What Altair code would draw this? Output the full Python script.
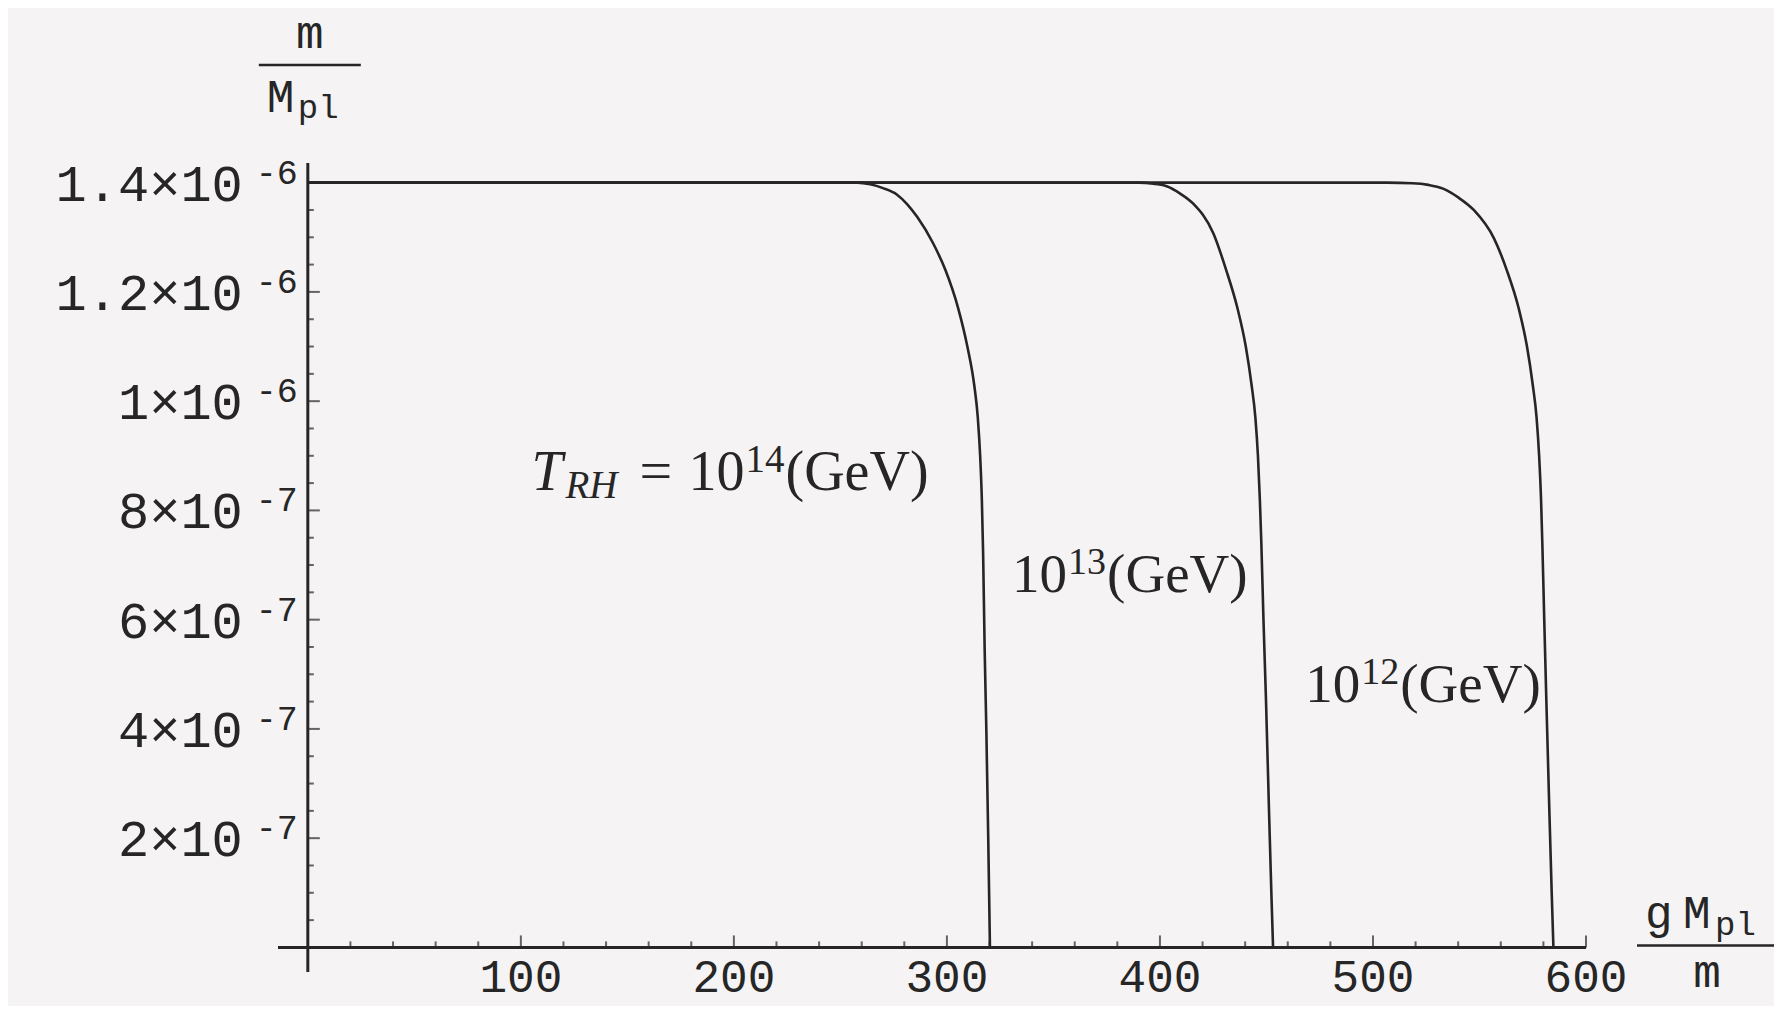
import altair as alt
import pandas as pd

# ---------------- data ----------------
# x = g*Mpl/m , y = m/Mpl
curve14_x = [0, 150, 250, 258, 264, 270, 276.6, 281.5, 286.1, 293.4, 299.3, 305.3, 309.6, 312.8, 314.5, 315.6, 316.4, 317.0, 317.7, 318.5, 319.4, 320.2]
curve14_y = [1.400e-6, 1.400e-6, 1.400e-6, 1.400e-6, 1.397e-6, 1.390e-6, 1.378e-6, 1.360e-6, 1.337e-6, 1.290e-6, 1.240e-6, 1.170e-6, 1.100e-6, 1.030e-6, 0.970e-6, 0.900e-6, 0.820e-6, 0.720e-6, 0.550e-6, 0.400e-6, 0.200e-6, 0.0]

curve13_x = [0, 200, 385, 390, 397, 403.5, 409.5, 415.5, 425.1, 431.1, 436.4, 440.3, 443.0, 444.8, 446.0, 446.9, 447.6, 448.6, 449.8, 451.2, 452.3, 453.1]
curve13_y = [1.400e-6, 1.400e-6, 1.400e-6, 1.400e-6, 1.398e-6, 1.393e-6, 1.380e-6, 1.362e-6, 1.307e-6, 1.240e-6, 1.170e-6, 1.100e-6, 1.030e-6, 0.970e-6, 0.900e-6, 0.820e-6, 0.740e-6, 0.600e-6, 0.450e-6, 0.250e-6, 0.100e-6, 0.0]

curve12_x = [0, 250, 500, 506.5, 518.5, 526, 532.9, 540, 547.3, 556.8, 562.8, 568.4, 572.3, 575.0, 576.8, 578.0, 578.9, 579.5, 580.4, 581.4, 582.8, 583.9, 584.7]
curve12_y = [1.400e-6, 1.400e-6, 1.400e-6, 1.400e-6, 1.399e-6, 1.396e-6, 1.389e-6, 1.373e-6, 1.350e-6, 1.298e-6, 1.240e-6, 1.170e-6, 1.100e-6, 1.030e-6, 0.970e-6, 0.900e-6, 0.820e-6, 0.740e-6, 0.600e-6, 0.450e-6, 0.250e-6, 0.100e-6, 0.0]

x_tick_values = [100, 200, 300, 400, 500, 600]
x_tick_labels = ["100", "200", "300", "400", "500", "600"]
x_minor_values = [v for v in range(20, 600, 20) if v % 100 != 0]

y_tick_values = [2e-7, 4e-7, 6e-7, 8e-7, 1e-6, 1.2e-6, 1.4e-6]
y_tick_mantissa = ["2×10", "4×10", "6×10", "8×10", "1×10", "1.2×10", "1.4×10"]
y_tick_exponent = ["-7", "-7", "-7", "-7", "-6", "-6", "-6"]
y_minor_values = [k * 5e-8 for k in range(1, 29) if k % 4 != 0]

label_x = [105.0, 330.6, 468.2]
label_y = [0.837e-6, 0.651e-6, 0.449e-6]
label_exp = ["14", "13", "12"]

X_MIN, X_MAX = -14, 600
Y_MIN, Y_MAX = -0.045e-6, 1.436e-6

INK = "#262626"
MONO = "Liberation Mono"
SERIF = "Liberation Serif"

XS = alt.Scale(domain=[X_MIN, X_MAX], nice=False, zero=False)
YS = alt.Scale(domain=[Y_MIN, Y_MAX], nice=False, zero=False)


def X(f):
    return alt.X(f, type="quantitative", scale=XS, axis=None)


def Y(f):
    return alt.Y(f, type="quantitative", scale=YS, axis=None)


# ---------------- curves ----------------
rows = []
for name, xs, ys in [("1e14", curve14_x, curve14_y), ("1e13", curve13_x, curve13_y), ("1e12", curve12_x, curve12_y)]:
    for i, (a, b) in enumerate(zip(xs, ys)):
        rows.append({"series": name, "x": a, "y": b, "i": i})
curves_df = pd.DataFrame(rows)

curves = alt.Chart(curves_df).mark_line(color=INK, strokeWidth=2.6, interpolate="monotone").encode(
    x=X("x"), y=Y("y"), detail="series:N", order="i:Q"
)

# ---------------- axes ----------------
xaxis = alt.Chart(pd.DataFrame({"x0": [X_MIN], "x1": [X_MAX], "y": [0.0]})).mark_rule(
    color=INK, strokeWidth=3
).encode(x=X("x0"), x2=alt.X2("x1"), y=Y("y"))

yaxis = alt.Chart(pd.DataFrame({"x": [0.0], "y0": [Y_MIN], "y1": [Y_MAX]})).mark_rule(
    color=INK, strokeWidth=3
).encode(x=X("x"), y=Y("y0"), y2=alt.Y2("y1"))

xmaj = alt.Chart(pd.DataFrame({"x": x_tick_values, "y": [0.0] * len(x_tick_values)})).mark_tick(
    orient="vertical", size=12, thickness=2, yOffset=-6, color=INK
).encode(x=X("x"), y=Y("y"))
xmin = alt.Chart(pd.DataFrame({"x": x_minor_values, "y": [0.0] * len(x_minor_values)})).mark_tick(
    orient="vertical", size=6, thickness=2, yOffset=-3, color=INK
).encode(x=X("x"), y=Y("y"))
ymaj = alt.Chart(pd.DataFrame({"y": y_tick_values, "x": [0.0] * len(y_tick_values)})).mark_tick(
    orient="horizontal", size=12, thickness=2, xOffset=6, color=INK
).encode(x=X("x"), y=Y("y"))
ymin = alt.Chart(pd.DataFrame({"y": y_minor_values, "x": [0.0] * len(y_minor_values)})).mark_tick(
    orient="horizontal", size=6, thickness=2, xOffset=3, color=INK
).encode(x=X("x"), y=Y("y"))

xlab = alt.Chart(pd.DataFrame({"x": x_tick_values, "y": [0.0] * len(x_tick_values), "t": x_tick_labels})).mark_text(
    font=MONO, fontSize=46, color=INK, align="center", baseline="alphabetic", dy=45
).encode(x=X("x"), y=Y("y"), text="t:N")

ydf = pd.DataFrame({"x": [0.0] * len(y_tick_values), "y": y_tick_values, "m": y_tick_mantissa, "e": y_tick_exponent})
ylab_m = alt.Chart(ydf).mark_text(
    font=MONO, fontSize=52, color=INK, align="right", baseline="alphabetic", dx=-65, dy=18
).encode(x=X("x"), y=Y("y"), text="m:N")
ylab_e = alt.Chart(ydf).mark_text(
    font=MONO, fontSize=35, color=INK, align="right", baseline="alphabetic", dx=-10, dy=1
).encode(x=X("x"), y=Y("y"), text="e:N")

# ---------------- axis titles ----------------
ytop = pd.DataFrame({"x": [0.0], "y": [Y_MAX]})


def ytxt(t, dx, dy, size, align="left"):
    return alt.Chart(ytop).mark_text(
        text=t, font=MONO, fontSize=size, color=INK, align=align, baseline="alphabetic", dx=dx, dy=dy
    ).encode(x=X("x"), y=Y("y"))


ytitle = [
    ytxt("m", 2, -115, 46, "center"),
    ytxt("M", -41, -51, 46),
    ytxt("pl", -10, -45, 34),
    alt.Chart(ytop).mark_rule(color=INK, strokeWidth=2.5, xOffset=-49, x2Offset=53, yOffset=-98).encode(
        x=X("x"), x2=alt.X2("x"), y=Y("y")
    ),
]

xend = pd.DataFrame({"x": [X_MAX], "y": [0.0]})


def xtxt(t, dx, dy, size, align="left"):
    return alt.Chart(xend).mark_text(
        text=t, font=MONO, fontSize=size, color=INK, align=align, baseline="alphabetic", dx=dx, dy=dy
    ).encode(x=X("x"), y=Y("y"))


xtitle = [
    xtxt("g", 59, -19, 46),
    xtxt("M", 97, -19, 46),
    xtxt("pl", 129, -12, 34),
    xtxt("m", 121, 40, 46, "center"),
    alt.Chart(xend).mark_rule(color=INK, strokeWidth=2.5, xOffset=51, x2Offset=188, yOffset=-2).encode(
        x=X("x"), x2=alt.X2("x"), y=Y("y")
    ),
]

# ---------------- curve labels ----------------
ldf = pd.DataFrame({"x": label_x, "y": label_y, "e": label_exp})


def ltxt(df, text, dx, dy, size, style="normal", field=None):
    kw = dict(font=SERIF, fontSize=size, fontStyle=style, color=INK, align="left", baseline="alphabetic", dx=dx, dy=dy)
    if field is None:
        return alt.Chart(df).mark_text(text=text, **kw).encode(x=X("x"), y=Y("y"))
    return alt.Chart(df).mark_text(**kw).encode(x=X("x"), y=Y("y"), text=f"{field}:N")


first = ldf.iloc[[0]]
rest = ldf.iloc[1:]
labels = [
    ltxt(first, "T", 0, 0, 56, "italic"),
    ltxt(first, "RH", 34, 8, 39, "italic"),
    ltxt(first, "=", 108, 0, 58),
    ltxt(first, "10", 157, 0, 56),
    ltxt(first, None, 214, -18, 39, field="e"),
    ltxt(first, "(GeV)", 254, 0, 56),
    ltxt(rest, "10", 0, 0, 55),
    ltxt(rest, None, 56, -18, 38, field="e"),
    ltxt(rest, "(GeV)", 95, 0, 55),
]

chart = alt.layer(
    curves, xaxis, yaxis, xmaj, xmin, ymaj, ymin, xlab, ylab_m, ylab_e, *ytitle, *xtitle, *labels
).properties(
    width=1308,
    height=809,
    autosize=alt.AutoSizeParams(type="none"),
    padding={"left": 270, "top": 155, "right": 188, "bottom": 34},
    background="#f5f3f4",
).configure_view(stroke=None)

chart.save("out.html", embed_options={"renderer": "svg", "actions": False})
